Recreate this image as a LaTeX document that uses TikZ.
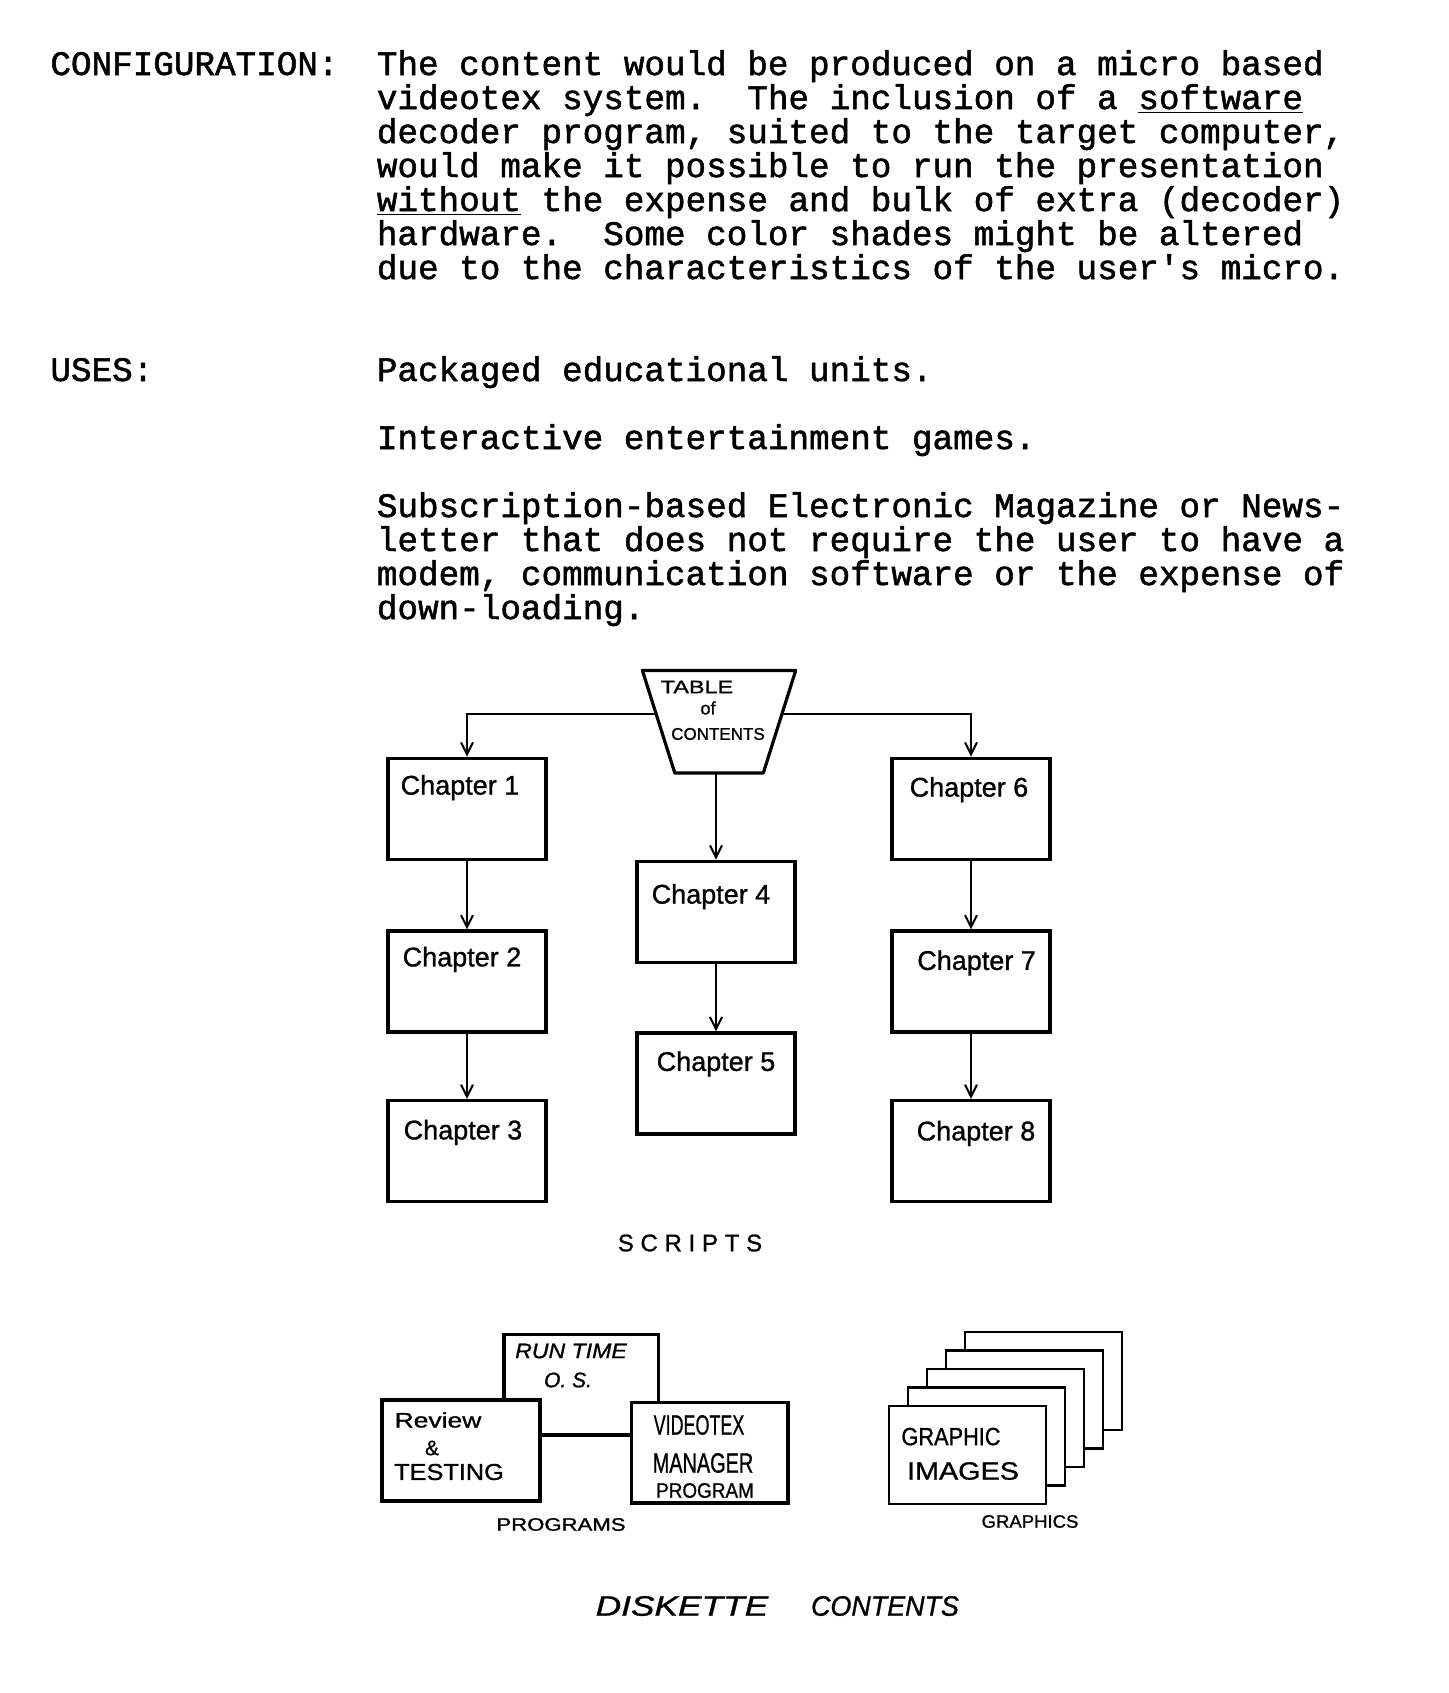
\documentclass[tikz,border=0pt]{standalone}
\usepackage{fontspec}
\setmainfont{Liberation Serif}
\setmonofont{Liberation Mono}[FakeBold=1.5]
\newfontfamily\hand{Liberation Sans}[FakeBold=1]
\usetikzlibrary{arrows.meta,calc}
\newcommand\hsq[2]{\scalebox{#1}[1]{#2}}
\newcommand\hfs[1]{\hand\fontsize{#1}{#1}\selectfont}
\begin{document}
\begin{tikzpicture}[x=0.5pt,y=-0.5pt,
  tw/.style={font=\ttfamily\fontsize{17.15}{17}\selectfont, inner sep=0pt, anchor=base west},
  chap/.style={draw, line width=1.6pt, minimum width=79pt, minimum height=50.5pt, inner sep=0pt},
  wbox/.style={draw, line width=1.6pt, fill=white, inner sep=0pt},
  gbox/.style={draw, line width=1.3pt, fill=white, inner sep=0pt, minimum width=78.5pt, minimum height=49pt},
  chlab/.style={font=\hfs{13.5}, inner sep=0pt},
  hl/.style={inner sep=0pt},
  conn/.style={line width=1pt},
  arr/.style={conn, -{Straight Barb[length=6pt,width=6pt,line width=1pt]}}
]
\fill[white] (0,0) rectangle (1449,1693);
\useasboundingbox (0,0) rectangle (1449,1693);

% ---------- typed text ----------
\node[tw] (cfg) at (50,75) {CONFIGURATION:};
\node[tw] (p1) at (376.5,75)  {The content would be produced on a micro based};
\node[tw] (p2) at (376.5,109) {videotex system.\ \ The inclusion of a \underline{software}};
\node[tw] (p3) at (376.5,143) {decoder program, suited to the target computer,};
\node[tw] (p4) at (376.5,177) {would make it possible to run the presentation};
\node[tw] (p5) at (376.5,211) {\underline{without} the expense and bulk of extra (decoder)};
\node[tw] (p6) at (376.5,245) {hardware.\ \ Some color shades might be altered};
\node[tw] (p7) at (376.5,279) {due to the characteristics of the user's micro.};

\node[tw] (uses) at (50,381) {USES:};
\node[tw] (u1) at (376.5,381) {Packaged educational units.};
\node[tw] (u2) at (376.5,449) {Interactive entertainment games.};
\node[tw] (u3) at (376.5,517) {Subscription-based Electronic Magazine or News-};
\node[tw] (u4) at (376.5,551) {letter that does not require the user to have a};
\node[tw] (u5) at (376.5,585) {modem, communication software or the expense of};
\node[tw] (u6) at (376.5,619) {down-loading.};

% ---------- table of contents ----------
\coordinate (tA) at (642.4,670.5);
\coordinate (tB) at (795.7,670.5);
\coordinate (tC) at (763.3,773);
\coordinate (tD) at (674.8,773);
\draw[line width=1.6pt, line join=round] (tA) -- (tB) -- (tC) -- (tD) -- cycle;
\node[hl, font=\hfs{9}] (toc1) at (697,687) {\hsq{1.3}{TABLE}};
\node[hl, font=\hfs{9}] (toc2) at (708,708) {of};
\node[hl, font=\hfs{8.5}] (toc3) at (718,734) {CONTENTS};
\coordinate (tL) at (656,713.7);
\coordinate (tR) at (782,713.7);
\coordinate (tM) at (716,773);

% ---------- chapters ----------
\node[chap] (c1) at (467,808.7) {};
\node[chap] (c2) at (467,981.5) {};
\node[chap] (c3) at (467,1151) {};
\node[chap] (c4) at (716,911.7) {};
\node[chap] (c5) at (716,1083.4) {};
\node[chap] (c6) at (971,808.7) {};
\node[chap] (c7) at (971,981.5) {};
\node[chap] (c8) at (971,1151) {};

\path (c1.north) ++(-7,31)   node[chlab] (l1) {Chapter 1};
\path (c2.north) ++(-5,30)   node[chlab] (l2) {Chapter 2};
\path (c3.north) ++(-4,33.5) node[chlab] (l3) {Chapter 3};
\path (c4.north) ++(-5,37)   node[chlab] (l4) {Chapter 4};
\path (c5.north) ++(0,32.6)  node[chlab] (l5) {Chapter 5};
\path (c6.north) ++(-2,33)   node[chlab] (l6) {Chapter 6};
\path (c7.north) ++(5.6,33.5) node[chlab] (l7) {Chapter 7};
\path (c8.north) ++(5,34.5)  node[chlab] (l8) {Chapter 8};

\draw[arr] (tL) -| (c1.north);
\draw[arr] (tR) -| (c6.north);
\draw[arr] (tM) -- (c4.north);
\draw[arr] (c1.south) -- (c2.north);
\draw[arr] (c2.south) -- (c3.north);
\draw[arr] (c4.south) -- (c5.north);
\draw[arr] (c6.south) -- (c7.north);
\draw[arr] (c7.south) -- (c8.north);

\node[hl, font=\hfs{12}\addfontfeature{LetterSpace=28}] (scr) at (690,1243) {SCRIPTS};

% ---------- programs ----------
\node[wbox, minimum width=77.3pt, minimum height=50.25pt] (rt) at (581.3,1384.75) {};
\node[wbox, minimum width=79pt, minimum height=50.5pt] (rv) at (461,1450.5) {};
\node[wbox, minimum width=78.2pt, minimum height=50.25pt] (vd) at (709.8,1452.75) {};

\node[hl, font=\hfs{10.5}\itshape] (rt1) at (571,1351) {\hsq{1.1}{RUN TIME}};
\node[hl, font=\hfs{10.5}\itshape] (rt2) at (568,1380) {O. S.};
\node[hl, font=\hfs{10.5}] (rv1) at (438,1420) {\hsq{1.26}{Review}};
\node[hl, font=\hfs{10.5}] (rv2) at (432,1448) {\&};
\node[hl, font=\hfs{11.5}] (rv3) at (449,1472) {\hsq{1.1}{TESTING}};
\node[hl, font=\hfs{14}] (vd1) at (699,1425) {\hsq{0.64}{VIDEOTEX}};
\node[hl, font=\hfs{14}] (vd2) at (703,1463) {\hsq{0.71}{MANAGER}};
\node[hl, font=\hfs{10.5}] (vd3) at (705,1490.5) {\hsq{0.9}{PROGRAM}};
\node[hl, font=\hfs{9}] (prg) at (561,1524.5) {\hsq{1.23}{PROGRAMS}};

% ---------- graphics ----------
\node[gbox] (g5) at (1043.5,1381) {};
\node[gbox] (g4) at (1024.5,1399.5) {};
\node[gbox] (g3) at (1005.5,1418) {};
\node[gbox] (g2) at (986.5,1436.5) {};
\node[gbox] (g1) at (967.5,1455) {};
\node[hl, font=\hfs{12.5}] (gr1) at (951,1436.6) {\hsq{0.87}{GRAPHIC}};
\node[hl, font=\hfs{12.5}] (gr2) at (963,1471) {\hsq{1.15}{IMAGES}};
\node[hl, font=\hfs{9}] (grs) at (1030,1521.5) {\hsq{1.03}{GRAPHICS}};

% ---------- caption ----------
\node[hl, font=\hfs{14}\itshape] (dk1) at (682,1606) {\hsq{1.26}{DISKETTE}};
\node[hl, font=\hfs{14}\itshape] (dk2) at (885,1606) {\hsq{0.96}{CONTENTS}};
\end{tikzpicture}
\end{document}
